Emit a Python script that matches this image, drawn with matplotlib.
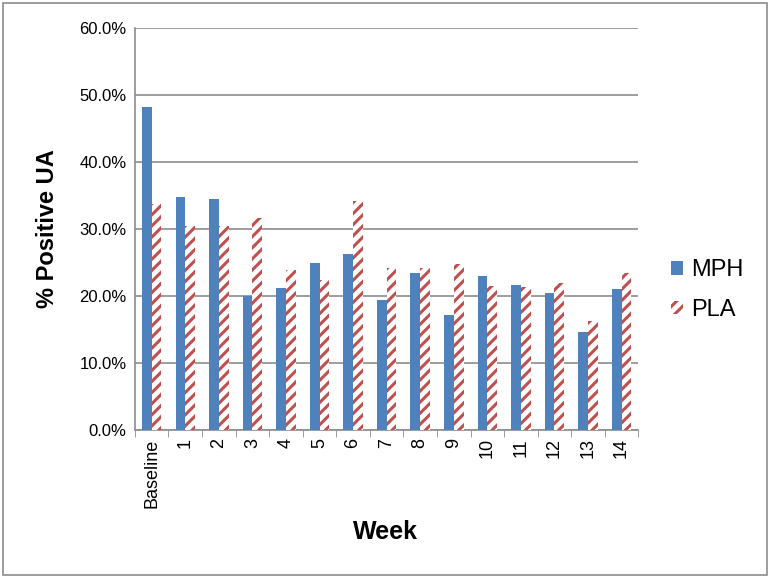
import numpy as np
import matplotlib
matplotlib.use("Agg")
import matplotlib.pyplot as plt
from matplotlib.patches import Rectangle
from matplotlib.ticker import FuncFormatter

plt.rcParams['font.family'] = ['Liberation Sans', 'DejaVu Sans']
plt.rcParams['hatch.linewidth'] = 2.2

# data
weeks = ['Baseline', '1', '2', '3', '4', '5', '6', '7', '8', '9', '10', '11', '12', '13', '14']
mph = [0.482, 0.347, 0.345, 0.200, 0.212, 0.249, 0.262, 0.194, 0.234, 0.171,
       0.229, 0.217, 0.204, 0.146, 0.210]
pla = [0.337, 0.305, 0.304, 0.316, 0.239, 0.224, 0.341, 0.241, 0.241, 0.248,
       0.215, 0.214, 0.220, 0.162, 0.234]

blue = '#4F81BD'
red = '#C0504D'
grid_col = '#8C8C8C'

fig = plt.figure(figsize=(7.71, 5.78), dpi=100)
ax = fig.add_axes([0.175, 0.256, 0.653, 0.696])

x = np.arange(len(weeks))
w = 0.29
ax.bar(x - w / 2, mph, width=w, color=blue, linewidth=0, label='MPH', zorder=3)
ax.bar(x + w / 2, pla, width=w, facecolor='white', edgecolor=red, hatch='///',
       linewidth=0, label='PLA', zorder=3)

ax.set_xlim(-0.5, len(weeks) - 0.5)
ax.set_ylim(0, 0.6)
ax.set_yticks(np.arange(0, 0.61, 0.1))
ax.yaxis.set_major_formatter(FuncFormatter(lambda v, p: f'{v * 100:.1f}%'))
ax.tick_params(axis='y', labelsize=12, length=0, pad=6)
ax.grid(axis='y', color=grid_col, linewidth=1.2, zorder=0)

# category ticks between groups
ax.set_xticks(x)
ax.set_xticklabels(weeks, rotation=90, fontsize=13)
ax.set_xticks(np.arange(-0.5, len(weeks), 1), minor=True)
ax.tick_params(axis='x', which='major', length=0, pad=6)
ax.tick_params(axis='x', which='minor', length=5, color=grid_col, direction='out')

for s in ['top', 'right']:
    ax.spines[s].set_visible(False)
for s in ['left', 'bottom']:
    ax.spines[s].set_color(grid_col)
    ax.spines[s].set_linewidth(1.2)

ax.set_ylabel('% Positive UA', fontsize=17, fontweight='bold')
ax.yaxis.set_label_coords(-0.15, 0.5)
fig.text(0.5, 0.08, 'Week', ha='center', va='center', fontsize=18, fontweight='bold')

h1 = Rectangle((0, 0), 1, 1, color=blue, linewidth=0)
h2 = Rectangle((0, 0), 1, 1, facecolor='white', edgecolor=red, hatch='///', linewidth=0)
fig.legend([h1, h2], ['MPH', 'PLA'], loc='center left', bbox_to_anchor=(0.87, 0.498),
           frameon=False, fontsize=17, handlelength=0.5, handleheight=0.5,
           handletextpad=0.35, labelspacing=0.75, borderpad=0, borderaxespad=0)

# outer frame
fig.patches.append(Rectangle((0.004, 0.006), 0.991, 0.988, transform=fig.transFigure,
                             fill=False, edgecolor='#8C8C8C', linewidth=1.2))

fig.savefig('out.png', dpi=100)
